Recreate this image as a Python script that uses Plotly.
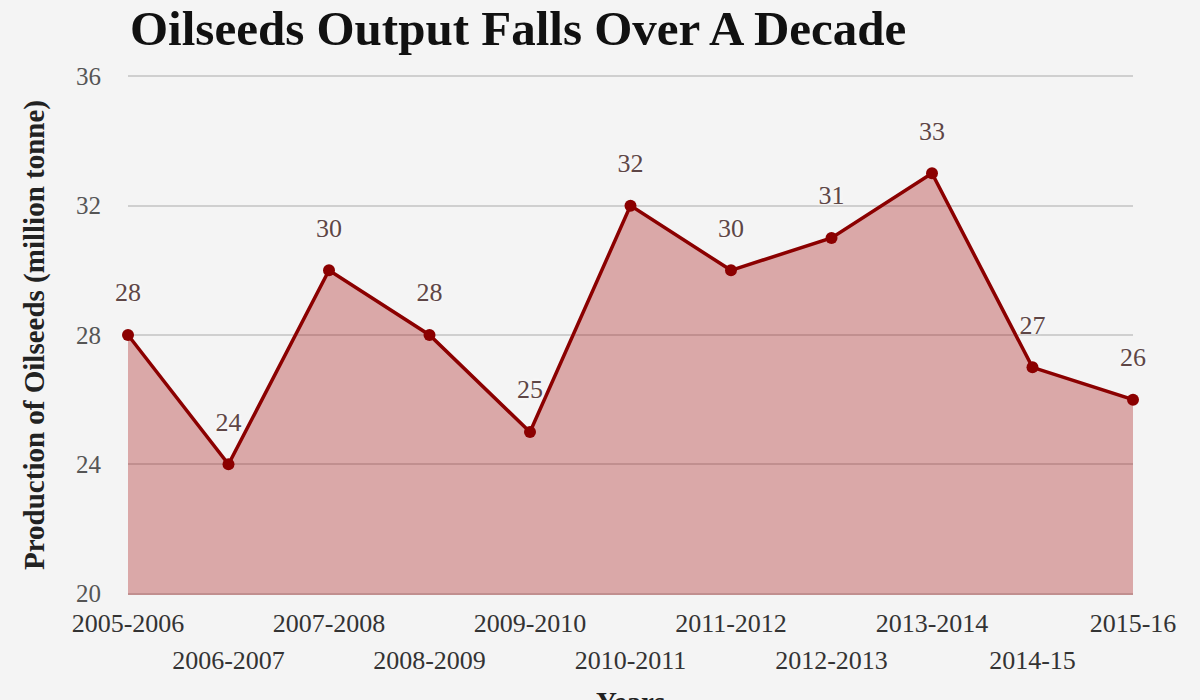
import plotly.graph_objects as go

# Oilseeds production by crop year (million tonne)
years = ['2005-2006', '2006-2007', '2007-2008', '2008-2009', '2009-2010', '2010-2011',
         '2011-2012', '2012-2013', '2013-2014', '2014-15', '2015-16']
production = [28, 24, 30, 28, 25, 32, 30, 31, 33, 27, 26]

y_ticks = [20, 24, 28, 32, 36]

idx = list(range(len(years)))
upper_idx = idx[0::2]   # labels on the first row
lower_idx = idx[1::2]   # labels pushed down to the second row

serif = 'Liberation Serif, Times New Roman, serif'
dark_red = '#8b0000'

fig = go.Figure()
fig.add_trace(go.Scatter(
    x=idx, y=production,
    mode='lines+markers',
    fill='tozeroy',
    fillcolor='rgba(160,0,0,0.31)',
    line=dict(color=dark_red, width=3.5),
    marker=dict(color=dark_red, size=12),
    cliponaxis=False,
    customdata=years,
    hovertemplate='%{customdata}: %{y}<extra></extra>',
))

# value labels, lifted above the points with a transparent marker
fig.add_trace(go.Scatter(
    x=idx, y=production,
    mode='markers+text',
    marker=dict(color='rgba(0,0,0,0)', size=42),
    text=[str(v) for v in production],
    textposition='top center',
    textfont=dict(family=serif, size=26, color='#5e4646', shadow='0 0 4px white'),
    cliponaxis=False,
    hoverinfo='skip',
))

# empty trace so the second x axis (second row of labels) gets drawn
fig.add_trace(go.Scatter(x=[None], y=[None], xaxis='x2', hoverinfo='skip', showlegend=False))

fig.update_layout(
    width=1200, height=700,
    paper_bgcolor='#f4f4f4', plot_bgcolor='#f4f4f4',
    margin=dict(l=128, r=67, t=75, b=105),
    showlegend=False,
    title=dict(text='<b>Oilseeds Output Falls Over A Decade</b>',
               x=130 / 1200, xanchor='left', xref='container',
               y=1 - 28 / 700, yanchor='middle', yref='container',
               font=dict(family=serif, size=49, color='#111111')),
    font=dict(family=serif),
    xaxis=dict(
        range=[0, len(years) - 1],
        tickmode='array', tickvals=upper_idx, ticktext=[years[i] for i in upper_idx],
        tickfont=dict(family=serif, size=26, color='#333333'),
        ticklabelstandoff=10,
        showgrid=False, showline=False, zeroline=False, automargin=False,
    ),
    xaxis2=dict(
        range=[0, len(years) - 1], overlaying='x', anchor='y', side='bottom',
        tickmode='array', tickvals=lower_idx, ticktext=[years[i] for i in lower_idx],
        tickfont=dict(family=serif, size=26, color='#333333'),
        ticklabelstandoff=47,
        showgrid=False, showline=False, zeroline=False, automargin=False,
    ),
    yaxis=dict(
        range=[19.96, 36.04], tickvals=y_ticks,
        tickfont=dict(family=serif, size=25, color='#555555'),
        showgrid=True, gridcolor='#cfcfcf', gridwidth=2,
        zeroline=False, showline=False, automargin=False,
        ticklabelstandoff=26,
        title=dict(text='<b>Production of Oilseeds (million tonne)</b>',
                   font=dict(family=serif, size=29, color='#222222'), standoff=22),
    ),
)

# x axis title sits at the very bottom edge, mostly cut off as in the original
fig.add_annotation(text='<b>Years</b>', xref='paper', yref='paper',
                   x=0.5, y=(595 - 684) / 520, xanchor='center', yanchor='top',
                   showarrow=False, font=dict(family=serif, size=29, color='#222222'))

fig.write_html('out.html', config={'displayModeBar': False},
               post_script="document.body.style.margin='0';")
